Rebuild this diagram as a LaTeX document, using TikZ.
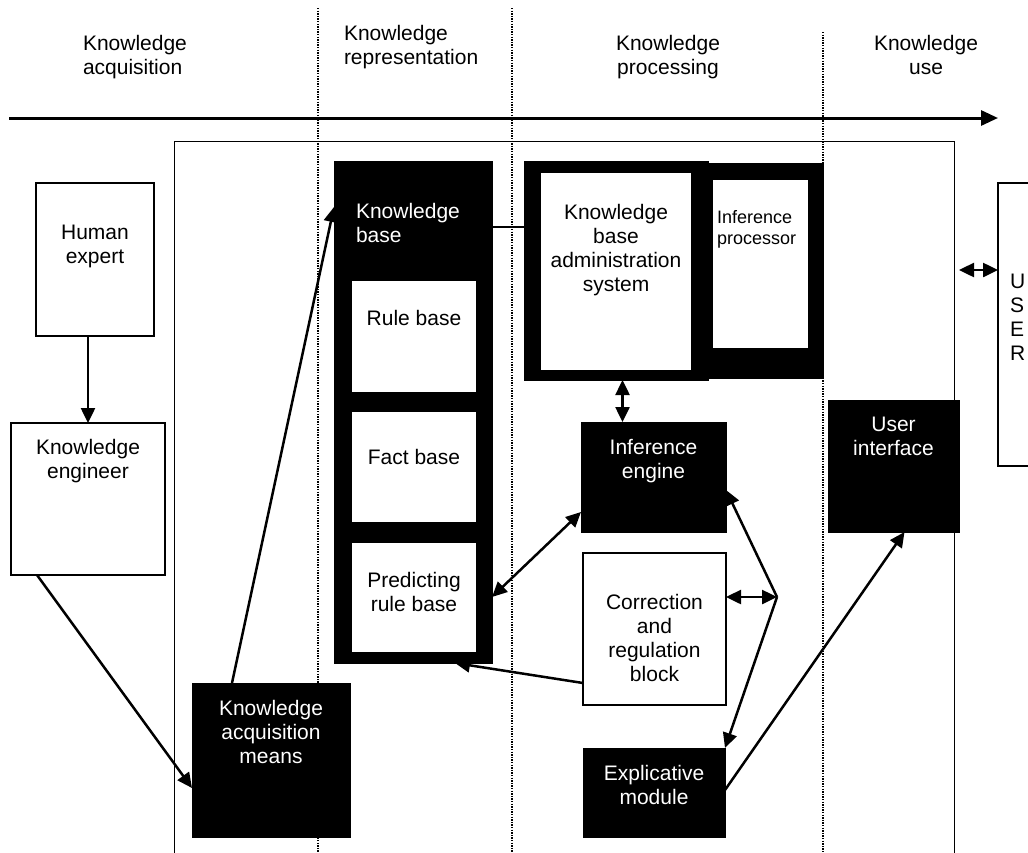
\documentclass[tikz,border=0pt]{standalone}
\usepackage{fontspec}
\setmainfont{Liberation Sans}
\usetikzlibrary{arrows.meta,positioning,calc}

\begin{document}
\begin{tikzpicture}[x=1pt,y=-1pt,
		every node/.style={font=\fontsize{21}{24}\selectfont, inner sep=0pt, outer sep=0pt},
		box/.style={draw=black, line width=1.2pt, fill=white, anchor=north west},
		blk/.style={draw=black, fill=black, anchor=north west},
		hole/.style={fill=white, anchor=north west},
		txt/.style={align=center, anchor=north},
		wtxt/.style={txt, text=white},
		arr/.style={line width=2.5pt, -{Triangle[length=15pt,width=14pt]}},
		dbl/.style={line width=2.5pt, {Triangle[length=15pt,width=14pt]}-{Triangle[length=15pt,width=14pt]}},
		link/.style={line width=1.2pt},
		sep/.style={line width=1.3pt, dash pattern=on 1.3pt off 1.3pt}]
			%%%%% START %%%%%
			\clip (0,0) rectangle (1028,852);
			
			% phases
			\node[txt, align=left, anchor=north west] (hAcq) at (83,35) {Knowledge\\acquisition};
			\node[txt, align=left, anchor=north west] (hRep) at (344,25) {Knowledge\\representation};
			\node[txt] (hProc) at (668,35) {Knowledge\\processing};
			\node[txt] (hUse) at (926,35) {Knowledge\\use};
			
			\coordinate (tl0) at (9,118);
			\coordinate (tl1) at (998,118);
			\draw[line width=3pt, -{Triangle[length=17pt,width=15pt]}] (tl0) -- (tl1);
			
			\foreach \x/\y in {318/8, 512/8, 823/32}
				\draw[sep] (\x,\y) -- (\x,852);
			
			\draw[line width=1pt] (174,141) rectangle (954,870);
			
			% acquisition
			\node[box, minimum width=118pt, minimum height=153pt] (human) at (36,183) {};
			\node[txt, below=42pt of human.north] (humanT) {Human\\expert};
			\node[box, minimum width=154pt, minimum height=152pt] (engineer) at (11,423) {};
			\node[txt, below=16pt of engineer.north] (engineerT) {Knowledge\\engineer};
			\node[blk, minimum width=158pt, minimum height=154pt] (acq) at (192,683) {};
			\node[wtxt, below=17pt of acq.north] (acqT) {Knowledge\\acquisition\\means};
			
			% representation
			\node[blk, minimum width=158pt, minimum height=502pt] (kb) at (334,161) {};
			\node[wtxt, align=left, below right=42pt and 22pt of kb.north west] (kbT) {Knowledge\\base};
			\node[hole, minimum width=124pt, minimum height=111pt] (rule) at (352,281) {};
			\node[txt, below=29pt of rule.north] (ruleT) {Rule base};
			\node[hole, minimum width=124pt, minimum height=110pt] (fact) at (352,412) {};
			\node[txt, below=37pt of fact.north] (factT) {Fact base};
			\node[hole, minimum width=124pt, minimum height=109pt] (pred) at (352,543) {};
			\node[txt, below=29pt of pred.north] (predT) {Predicting\\rule base};
			
			% processing
			\node[blk, minimum width=184pt, minimum height=219pt] (adm) at (524,161) {};
			\node[hole, minimum width=150pt, minimum height=197pt] (admw) at (541,173) {};
			\node[txt, below=31pt of admw.north] (admT) {Knowledge\\base\\administration\\system};
			\node[blk, minimum width=115pt, minimum height=215pt] (proc) at (708,163) {};
			\node[hole, minimum width=95pt, minimum height=168pt] (procw) at (713,180) {};
			\node[font=\fontsize{18}{21}\selectfont, align=left, below right=30pt and 4pt of procw.north west] (procT) {Inference\\processor};
			
			\node[blk, minimum width=145pt, minimum height=110pt] (engine) at (581,422) {};
			\node[wtxt, below=17pt of engine.north] (engineT) {Inference\\engine};
			\node[box, minimum width=143pt, minimum height=152pt] (corr) at (583,553) {};
			\node[txt, below=41pt of corr.north] (corrT) {Correction\\and\\regulation\\block};
			\node[blk, minimum width=142pt, minimum height=89pt] (expl) at (583,748) {};
			\node[wtxt, below=17pt of expl.north] (explT) {Explicative\\module};
			
			% use
			\node[blk, minimum width=131pt, minimum height=132pt] (ui) at (828,400) {};
			\node[wtxt, below=17pt of ui.north] (uiT) {User\\interface};
			\node[box, minimum width=60pt, minimum height=283pt] (usr) at (998,183) {};
			\node[align=left, below right=91pt and 12pt of usr.north west] (usrT) {U\\S\\E\\R};
			
			% connections
			\draw[arr] (engineer.north |- human.south) -- (engineer.north);
			\draw[arr] ([xshift=26pt]engineer.south west) -- ([yshift=-28pt]acq.west);
			\draw[arr] ([xshift=40pt]acq.north west) -- ([yshift=-46pt]kb.north west);
			\draw[link] ([yshift=-66pt]kb.north east) -- ([yshift=-66pt]adm.north west);
			\draw[link] ([yshift=-76pt]admw.north east) -- ([yshift=-69pt]procw.north west);
			\draw[dbl] ([xshift=-31pt]engine.north) -- ([xshift=-31pt]engine.north |- adm.south);
			\draw[dbl] ([yshift=20pt]engine.south west) -- ([yshift=66pt]kb.south east);
			
			\coordinate (jn) at (777,597);
			\draw[dbl] ([yshift=-44pt]corr.north east) -- (jn);
			\draw[arr] (jn) -- ([yshift=-68pt]engine.north east);
			\draw[arr] (jn) -- (expl.north east);
			\draw[arr] ([yshift=-130pt]corr.north west) -- ([xshift=42pt]kb.south);
			\draw[arr] ([yshift=-42pt]expl.north east) -- ([xshift=11pt]ui.south);
			\draw[dbl] ([yshift=130pt]ui.north east) -- ([yshift=-87pt]usr.north west);
			
			%%%%% END %%%%%
		\end{tikzpicture}
\end{document}
